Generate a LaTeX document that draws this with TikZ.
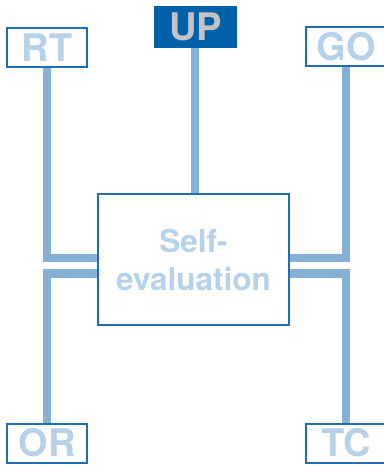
\documentclass[tikz,border=0pt]{standalone}
\usepackage{fontspec}
\setmainfont{TeX Gyre Heros}
\usepackage{xcolor}
\definecolor{frameblue}{HTML}{1F6DB2}
\definecolor{darkblue}{HTML}{0061AB}
\definecolor{paleblue}{HTML}{B5D2EA}
\definecolor{linkblue}{HTML}{85B1D6}
\definecolor{upgrey}{HTML}{C3C3C3}

\begin{document}
\begin{tikzpicture}[x=1pt,y=-1pt,
    tag/.style={draw=frameblue,line width=2pt,fill=white,text=paleblue,inner sep=0pt,minimum width=80pt,minimum height=39pt,font=\bfseries\fontsize{38}{38}\selectfont},
    link/.style={draw=linkblue,line width=8.5pt,line join=miter}]

                \useasboundingbox (0,0) rectangle (383,465);

                \node[tag] (RT) at (47,47.5) {RT};
                \node[tag,fill=darkblue,draw=darkblue,text=upgrey,minimum width=81pt,minimum height=40pt] (UP) at (195.5,27) {UP};
                \node[tag,minimum width=80pt] (GO) at (346,46.5) {GO};
                \node[tag] (OR) at (47,443) {OR};
                \node[tag,minimum width=80pt] (TC) at (346,443) {TC};
                \node[draw=frameblue,line width=1.5pt,fill=white,text=paleblue,minimum width=191pt,minimum height=131pt,align=center,font=\bfseries\fontsize{31.5}{38}\selectfont] (self) at (193.5,259.5) {Self-\\evaluation};

                \draw[link] (UP.south -| 195,0) -- (self.north -| 195,0);
                \draw[link] (RT.south) |- ([yshift=1.5pt]self.west);
                \draw[link] (OR.north) |- ([yshift=-14pt]self.west);
                \draw[link] (GO.south) |- ([yshift=1.5pt]self.east);
                \draw[link] (TC.north) |- ([yshift=-14pt]self.east);

            \end{tikzpicture}
\end{document}
